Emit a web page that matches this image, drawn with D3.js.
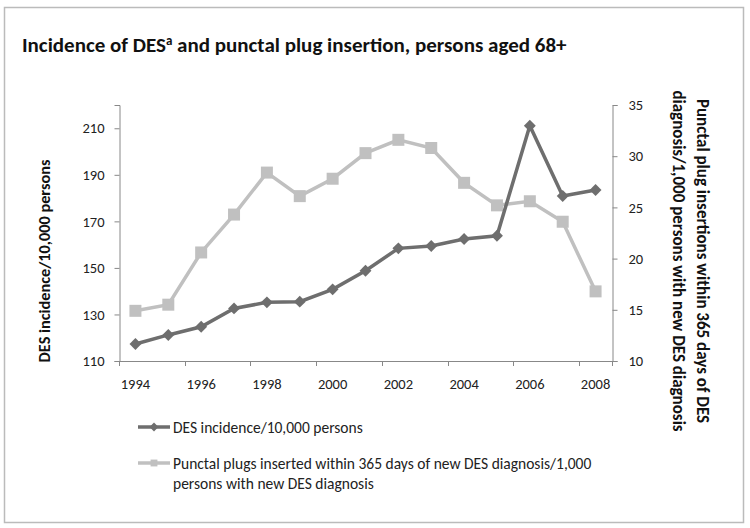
<!DOCTYPE html>
<html>
<head>
<meta charset="utf-8">
<script src="https://cdn.jsdelivr.net/npm/d3@7"></script>
<style>
  body { margin: 0; background: #fff; }
  svg { font-family: Carlito, Lato, sans-serif; }
</style>
</head>
<body>
<svg id="chart"></svg>
<script>
// Years along the x axis (one point per year)
const years = [1994, 1995, 1996, 1997, 1998, 1999, 2000, 2001, 2002, 2003, 2004, 2005, 2006, 2007, 2008];
// DES incidence per 10,000 persons (left axis)
const desIncidence = [117.3, 121.2, 124.7, 132.6, 135.2, 135.5, 140.8, 148.8, 158.4, 159.4, 162.4, 163.8, 211.1, 180.9, 183.5];
// Punctal plugs per 1,000 persons with new DES diagnosis (right axis)
const plugRate = [14.9, 15.5, 20.6, 24.3, 28.4, 26.1, 27.8, 30.3, 31.6, 30.8, 27.4, 25.2, 25.6, 23.6, 16.8];
// Tick labels
const leftTicks = [110, 130, 150, 170, 190, 210];
const rightTicks = [10, 15, 20, 25, 30, 35];
const yearLabels = [1994, 1996, 1998, 2000, 2002, 2004, 2006, 2008];

const width = 750, height = 528;
const margin = {top: 105, left: 119, right: 138, bottom: 167};
const darkCol = '#6e6e6e', lightCol = '#c0c0c0', axisCol = '#888';

const svg = d3.select('#chart').attr('width', width).attr('height', height);

// frame
svg.append('rect')
    .attr('x', 4.5).attr('y', 7.5)
    .attr('width', 739).attr('height', 515)
    .attr('fill', 'none').attr('stroke', '#bbb').attr('stroke-width', 1.5);

// title
const title = svg.append('text')
    .attr('x', 22).attr('y', 52)
    .attr('font-size', 21).attr('font-weight', 'bold').attr('fill', '#111');
title.append('tspan').text('Incidence of DES');
title.append('tspan').text('a').attr('font-size', 13).attr('dy', -7);
title.append('tspan').text(' and punctal plug insertion, persons aged 68+').attr('dy', 7);

const x = d3.scaleBand()
    .domain(years)
    .range([margin.left, width - margin.right]);
const yL = d3.scaleLinear().domain([110, 220]).range([height - margin.bottom, margin.top]);
const yR = d3.scaleLinear().domain([10, 35]).range([height - margin.bottom, margin.top]);

// x axis: tick marks every second band boundary, labels at band centres
const xBottom = height - margin.bottom;
svg.append('line')
    .attr('x1', margin.left).attr('x2', width - margin.right)
    .attr('y1', xBottom + 0.5).attr('y2', xBottom + 0.5)
    .attr('stroke', axisCol);
svg.append('g').selectAll('line')
    .data(yearLabels)
    .join('line')
    .attr('x1', d => Math.round(x(d)) + 0.5).attr('x2', d => Math.round(x(d)) + 0.5)
    .attr('y1', xBottom).attr('y2', xBottom + 5)
    .attr('stroke', axisCol);
svg.append('line')
    .attr('x1', width - margin.right + 0.5).attr('x2', width - margin.right + 0.5)
    .attr('y1', xBottom).attr('y2', xBottom + 5)
    .attr('stroke', axisCol);
svg.append('g').selectAll('text')
    .data(yearLabels)
    .join('text')
    .attr('x', d => x(d) + x.bandwidth() / 2)
    .attr('y', xBottom + 28)
    .attr('text-anchor', 'middle')
    .attr('font-size', 14.5).attr('fill', '#222')
    .text(d => d);

// left axis
const gL = svg.append('g')
    .attr('transform', `translate(${margin.left + 0.5},0)`)
    .call(d3.axisLeft(yL).tickValues(leftTicks).tickSize(5).tickPadding(10));
// right axis
const gR = svg.append('g')
    .attr('transform', `translate(${width - margin.right + 0.5},0)`)
    .call(d3.axisRight(yR).tickValues(rightTicks).tickSize(5).tickPadding(11));
[gL, gR].forEach(g => {
    g.select('.domain').attr('stroke', axisCol);
    g.selectAll('.tick line').attr('stroke', axisCol);
    g.selectAll('.tick text').attr('font-size', 14.5).attr('fill', '#222')
        .attr('font-family', 'Carlito, Lato, sans-serif');
});

// axis titles
svg.append('text')
    .attr('transform', 'translate(50,261) rotate(-90)')
    .attr('text-anchor', 'middle')
    .attr('font-size', 16.3).attr('font-weight', 'bold').attr('fill', '#111')
    .text('DES incidence/10,000 persons');
const rt = svg.append('text')
    .attr('transform', 'translate(697,261) rotate(90)')
    .attr('text-anchor', 'middle')
    .attr('font-size', 17).attr('font-weight', 'bold').attr('fill', '#111');
rt.append('tspan').attr('x', 0).attr('dy', 0).text('Punctal plug insertions within 365 days of DES');
rt.append('tspan').attr('x', 0).attr('dy', 24).text('diagnosis/1,000 persons with new DES diagnosis');

const cx = d => x(d) + x.bandwidth() / 2;

// light series (right axis)
svg.append('path')
    .datum(years)
    .attr('fill', 'none').attr('stroke', lightCol).attr('stroke-width', 3.5)
    .attr('d', d3.line().x(cx).y((d, i) => yR(plugRate[i])));
svg.append('g').selectAll('rect')
    .data(years)
    .join('rect')
    .attr('x', d => cx(d) - 6).attr('y', (d, i) => yR(plugRate[i]) - 6)
    .attr('width', 12).attr('height', 12)
    .attr('fill', lightCol);

// dark series (left axis)
const diamond = d3.symbol().type(d3.symbolDiamond2).size(90);
svg.append('path')
    .datum(years)
    .attr('fill', 'none').attr('stroke', darkCol).attr('stroke-width', 3.5)
    .attr('d', d3.line().x(cx).y((d, i) => yL(desIncidence[i])));
svg.append('g').selectAll('path')
    .data(years)
    .join('path')
    .attr('d', diamond)
    .attr('transform', (d, i) => `translate(${cx(d)},${yL(desIncidence[i])})`)
    .attr('fill', darkCol);

// legend
const legend = [
    {col: darkCol, mark: 'diamond', lines: ['DES incidence/10,000 persons'], y: 427},
    {col: lightCol, mark: 'square', lines: ['Punctal plugs inserted within 365 days of new DES diagnosis/1,000', 'persons with new DES diagnosis'], y: 463}
];
const lg = svg.append('g').selectAll('g').data(legend).join('g');
lg.append('line')
    .attr('x1', 138).attr('x2', 170)
    .attr('y1', d => d.y).attr('y2', d => d.y)
    .attr('stroke', d => d.col).attr('stroke-width', 3.5);
lg.append('path')
    .attr('d', d => d.mark === 'diamond'
        ? d3.symbol().type(d3.symbolDiamond2).size(50)()
        : d3.symbol().type(d3.symbolSquare2).size(60)())
    .attr('transform', d => `translate(154,${d.y})`)
    .attr('fill', d => d.col);
lg.append('text')
    .attr('y', d => d.y + 5.5)
    .attr('font-size', 15.5).attr('fill', '#222')
    .selectAll('tspan')
    .data(d => d.lines)
    .join('tspan')
    .attr('x', 173).attr('dy', (d, i) => i ? 20 : 0)
    .text(d => d);
</script>
</body>
</html>
